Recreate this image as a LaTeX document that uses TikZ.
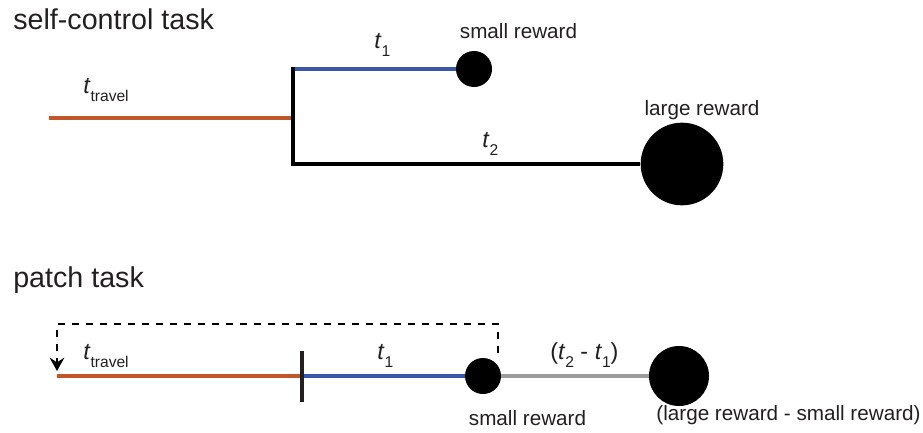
\documentclass[tikz,border=0pt]{standalone}
\usepackage{fontspec}
\setmainfont{Liberation Sans}
\usetikzlibrary{arrows.meta}
\definecolor{txt}{HTML}{231F20}
\definecolor{travelc}{HTML}{C0562A}
\definecolor{bluec}{HTML}{3A56A8}
\definecolor{grayc}{HTML}{9A9A9C}
\newcommand{\tsub}[1]{\textit{t}\raisebox{-6.5pt}{\fontsize{11.7}{12}\selectfont #1}}
\tikzset{
  title/.style={anchor=base west, inner sep=0, text=txt, font=\fontsize{21.5}{24}\selectfont},
  small/.style={anchor=base, inner sep=0, text=txt, font=\fontsize{15.5}{18}\selectfont},
  tlab/.style={anchor=base west, inner sep=0, text=txt, font=\fontsize{17.5}{20}\selectfont},
  seg/.style={line width=3.2pt},
  dot/.style={circle, fill=black, draw=none, inner sep=0pt, minimum size=#1},
}
\begin{document}
\begin{tikzpicture}[x=0.75pt, y=-0.75pt]
\useasboundingbox (0,0) rectangle (923,432);
% ---------- self-control task ----------
\node[title] (t1title) at (13,29) {self-control task};
\coordinate (tstart) at (49,118);
\coordinate (tjoin) at (293,118);
\coordinate (jtop) at (293,69);
\coordinate (jbot) at (293,164);
\node[dot=27pt] (sA) at (474,69) {};
\node[dot=62pt] (lA) at (682,164) {};
\draw[seg, travelc] (tstart) -- (tjoin);
\draw[seg, bluec] (jtop) -- (sA);
\draw[seg, black] (jbot) -- (lA);
\draw[seg, black, line cap=rect] (jtop) -- (jbot);
\node[tlab] (ttravA) at (83,93) {\tsub{travel}};
\node[tlab] (t1A) at (374,48) {\tsub{1}};
\node[tlab] (t2A) at (482,147) {\tsub{2}};
\node[small] (sAlab) at (518.5,38) {small reward};
\node[small] (lAlab) at (702,115) {large reward};
% ---------- patch task ----------
\node[title] (t2title) at (13,287) {patch task};
\coordinate (bstart) at (57,376);
\coordinate (btick) at (302,376);
\coordinate (tickT) at (302,351);
\coordinate (tickB) at (302,402);
\node[dot=27pt] (sB) at (483,376) {};
\node[dot=45pt] (lB) at (679,376) {};
\draw[seg, travelc] (bstart) -- (btick);
\draw[seg, bluec] (btick) -- (sB);
\draw[seg, grayc] (sB) -- (lB);
\draw[line width=2.5pt, txt] (tickT) -- (tickB);
\coordinate (d0) at (498,353);
\coordinate (d1) at (498,324);
\coordinate (d2) at (57,324);
\coordinate (d3) at (57,371);
\draw[line width=1.9pt, black, dash pattern=on 5.5pt off 5pt, -{Stealth[length=10pt,width=11pt,inset=3.5pt]}]
  (d0) -- (d1) -- (d2) -- (d3);
\node[tlab] (ttravB) at (83,359) {\tsub{travel}};
\node[tlab] (t1B) at (377,359) {\tsub{1}};
\node[tlab] (t21B) at (550,359) {(\tsub{2} - \tsub{1})};
\node[small] (sBlab) at (527.5,425) {small reward};
\node[small] (lBlab) at (788.5,420) {(large reward - small reward)};
\end{tikzpicture}
\end{document}
